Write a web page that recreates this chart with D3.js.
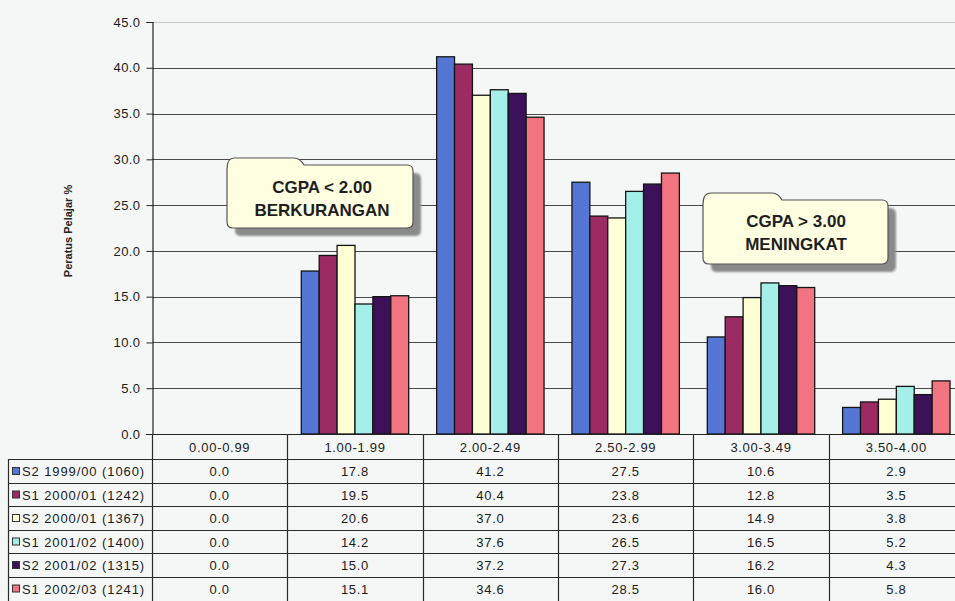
<!DOCTYPE html>
<html>
<head>
<meta charset="utf-8">
<script src="https://cdn.jsdelivr.net/npm/d3@7"></script>
<style>
  html, body { margin: 0; padding: 0; background: #f5f7f6; }
  svg { display: block; font-family: "Liberation Sans", Arial, sans-serif; }
</style>
</head>
<body>
<svg id="chart" width="955" height="601"></svg>
<script>
// CGPA bands (x categories)
const categories = ["0.00-0.99", "1.00-1.99", "2.00-2.49", "2.50-2.99", "3.00-3.49", "3.50-4.00"];

// Semester cohorts (series)
const seriesNames = [
  "S2 1999/00 (1060)",
  "S1 2000/01 (1242)",
  "S2 2000/01 (1367)",
  "S1 2001/02 (1400)",
  "S2 2001/02 (1315)",
  "S1 2002/03 (1241)"
];

// Percentage of students per band, one array per cohort
const s2_1999 = [0.0, 17.8, 41.2, 27.5, 10.6, 2.9];
const s1_2000 = [0.0, 19.5, 40.4, 23.8, 12.8, 3.5];
const s2_2000 = [0.0, 20.6, 37.0, 23.6, 14.9, 3.8];
const s1_2001 = [0.0, 14.2, 37.6, 26.5, 16.5, 5.2];
const s2_2001 = [0.0, 15.0, 37.2, 27.3, 16.2, 4.3];
const s1_2002 = [0.0, 15.1, 34.6, 28.5, 16.0, 5.8];

const yTicks = [0, 5, 10, 15, 20, 25, 30, 35, 40, 45];

const seriesValues = [s2_1999, s1_2000, s2_2000, s1_2001, s2_2001, s1_2002];
const colors = ["#5676d6", "#9b2b62", "#ffffd6", "#a4f0e8", "#3d1159", "#f27480"];

const svg = d3.select("#chart");

const plotLeft = 152, plotRight = 964, plotTop = 22, plotBottom = 434;
const x = d3.scaleBand().domain(categories).range([plotLeft, plotRight]).paddingInner(0).paddingOuter(0);
const xs = d3.scaleBand().domain(seriesNames).range([0, x.bandwidth()]).paddingInner(0).paddingOuter(0.78);
const y = d3.scaleLinear().domain([0, 45]).range([plotBottom, plotTop]);

// gridlines
svg.append("g")
  .selectAll("line")
  .data(yTicks.filter(t => t > 0))
  .join("line")
  .attr("x1", plotLeft).attr("x2", 955)
  .attr("y1", d => Math.round(y(d)) + 0.5).attr("y2", d => Math.round(y(d)) + 0.5)
  .attr("stroke", d => d === 45 ? "#c4c8c6" : "#4a4a4a")
  .attr("stroke-width", 1);

// y axis
const yAxis = d3.axisLeft(y).tickValues(yTicks).tickFormat(d3.format(".1f")).tickSize(6).tickPadding(6);
const gy = svg.append("g").attr("transform", `translate(${plotLeft + 0.5},0)`).call(yAxis);
gy.attr("font-family", null);
gy.select(".domain").attr("stroke", "#222").attr("stroke-width", 1.2);
gy.selectAll(".tick line").attr("stroke", "#222");
gy.selectAll(".tick text")
  .attr("font-size", 13).attr("fill", "#1a1a1a")
  .attr("letter-spacing", 0.4);

// y axis title
svg.append("text")
  .attr("transform", "translate(72,231) rotate(-90)")
  .attr("text-anchor", "middle")
  .attr("font-size", 11).attr("font-weight", "bold").attr("fill", "#222")
  .text("Peratus Pelajar %");

// bars
const groups = svg.append("g").selectAll("g")
  .data(seriesNames.map((name, i) => ({ name, i, values: seriesValues[i] })))
  .join("g")
  .attr("fill", d => colors[d.i]);

groups.selectAll("rect")
  .data(d => d.values.map((v, j) => ({ name: d.name, cat: categories[j], v })))
  .join("rect")
  .filter(d => d.v > 0)
  .attr("x", d => x(d.cat) + xs(d.name))
  .attr("y", d => y(d.v))
  .attr("width", xs.bandwidth())
  .attr("height", d => y(0) - y(d.v))
  .attr("stroke", "#141414")
  .attr("stroke-width", 1.3);

// x axis line
svg.append("line")
  .attr("x1", plotLeft - 6).attr("x2", 955)
  .attr("y1", plotBottom + 0.5).attr("y2", plotBottom + 0.5)
  .attr("stroke", "#222").attr("stroke-width", 1.2);

// data table
const headerTop = plotBottom, headerH = 25, rowH = 23.5;
const tableLeft = 8;
const tbl = svg.append("g");

// header row labels
tbl.selectAll("text.cat")
  .data(categories)
  .join("text")
  .attr("class", "cat")
  .attr("x", d => x(d) + x.bandwidth() / 2)
  .attr("y", headerTop + 18)
  .attr("text-anchor", "middle")
  .attr("font-size", 13).attr("letter-spacing", 0.7).attr("fill", "#1a1a1a")
  .text(d => d);

// horizontal rules
const rowTops = seriesNames.map((_, i) => headerTop + headerH + i * rowH);
tbl.selectAll("line.h")
  .data(rowTops)
  .join("line")
  .attr("class", "h")
  .attr("x1", tableLeft).attr("x2", 955)
  .attr("y1", d => Math.round(d) + 0.5).attr("y2", d => Math.round(d) + 0.5)
  .attr("stroke", "#2a2a2a").attr("stroke-width", 1);

// vertical rules
const bounds = categories.map(c => x(c)).concat([x(categories[5]) + x.bandwidth()]);
tbl.selectAll("line.v")
  .data(bounds)
  .join("line")
  .attr("class", "v")
  .attr("x1", d => Math.round(d) + 0.5).attr("x2", d => Math.round(d) + 0.5)
  .attr("y1", headerTop).attr("y2", 601)
  .attr("stroke", "#2a2a2a").attr("stroke-width", 1.2);
tbl.append("line")
  .attr("x1", tableLeft + 0.5).attr("x2", tableLeft + 0.5)
  .attr("y1", headerTop + headerH).attr("y2", 601)
  .attr("stroke", "#2a2a2a").attr("stroke-width", 1.2);

// legend keys and names
const rows = tbl.selectAll("g.row")
  .data(seriesNames.map((name, i) => ({ name, i, values: seriesValues[i] })))
  .join("g")
  .attr("class", "row")
  .attr("transform", d => `translate(0,${rowTops[d.i]})`);

rows.append("rect")
  .attr("x", 12.5).attr("y", 8.5)
  .attr("width", 7).attr("height", 7)
  .attr("fill", d => colors[d.i])
  .attr("stroke", "#333").attr("stroke-width", 1);

rows.append("text")
  .attr("x", 22).attr("y", 17)
  .attr("font-size", 13).attr("letter-spacing", 0.9).attr("fill", "#1a1a1a")
  .text(d => d.name);

rows.selectAll("text.val")
  .data(d => d.values.map((v, j) => ({ v, cat: categories[j] })))
  .join("text")
  .attr("class", "val")
  .attr("x", d => x(d.cat) + x.bandwidth() / 2)
  .attr("y", 17)
  .attr("text-anchor", "middle")
  .attr("font-size", 13).attr("letter-spacing", 0.7).attr("fill", "#1a1a1a")
  .text(d => d3.format(".1f")(d.v));

// callouts
const callouts = [
  { x0: 227, x1: 413, tabTop: 158, bodyTop: 165, y1: 228, tabX0: 234, tabX1: 300,
    lines: ["CGPA < 2.00", "BERKURANGAN"], cx: 322, base: 193 },
  { x0: 703, x1: 888, tabTop: 193, bodyTop: 200, y1: 264, tabX0: 711, tabX1: 778,
    lines: ["CGPA > 3.00", "MENINGKAT"], cx: 796, base: 227 }
];

function calloutPath(c) {
  const r = 6;
  const p = d3.path();
  p.moveTo(c.x0, c.bodyTop + 4);
  p.quadraticCurveTo(c.x0, c.tabTop, c.tabX0, c.tabTop);
  p.lineTo(c.tabX1 - 6, c.tabTop);
  p.quadraticCurveTo(c.tabX1, c.tabTop, c.tabX1 + 4, c.bodyTop);
  p.lineTo(c.x1 - r, c.bodyTop);
  p.quadraticCurveTo(c.x1, c.bodyTop, c.x1, c.bodyTop + r);
  p.lineTo(c.x1, c.y1 - r);
  p.quadraticCurveTo(c.x1, c.y1, c.x1 - r, c.y1);
  p.lineTo(c.x0 + r, c.y1);
  p.quadraticCurveTo(c.x0, c.y1, c.x0, c.y1 - r);
  p.closePath();
  return p.toString();
}

const defs = svg.append("defs");
defs.append("filter").attr("id", "soft")
  .append("feGaussianBlur").attr("stdDeviation", 1.2);

const cg = svg.append("g").selectAll("g").data(callouts).join("g");
cg.append("path")
  .attr("d", calloutPath)
  .attr("transform", "translate(8,8)")
  .attr("fill", "#8a8a8a")
  .attr("filter", "url(#soft)");
cg.append("path")
  .attr("d", calloutPath)
  .attr("fill", "#ffffe2")
  .attr("stroke", "#555")
  .attr("stroke-width", 1.2);
cg.each(function (c) {
  const g = d3.select(this);
  c.lines.forEach((t, k) => {
    g.append("text")
      .attr("x", c.cx).attr("y", c.base + k * 23)
      .attr("text-anchor", "middle")
      .attr("font-size", 17).attr("font-weight", "bold").attr("fill", "#1e1e1e")
      .text(t);
  });
});
</script>
</body>
</html>
